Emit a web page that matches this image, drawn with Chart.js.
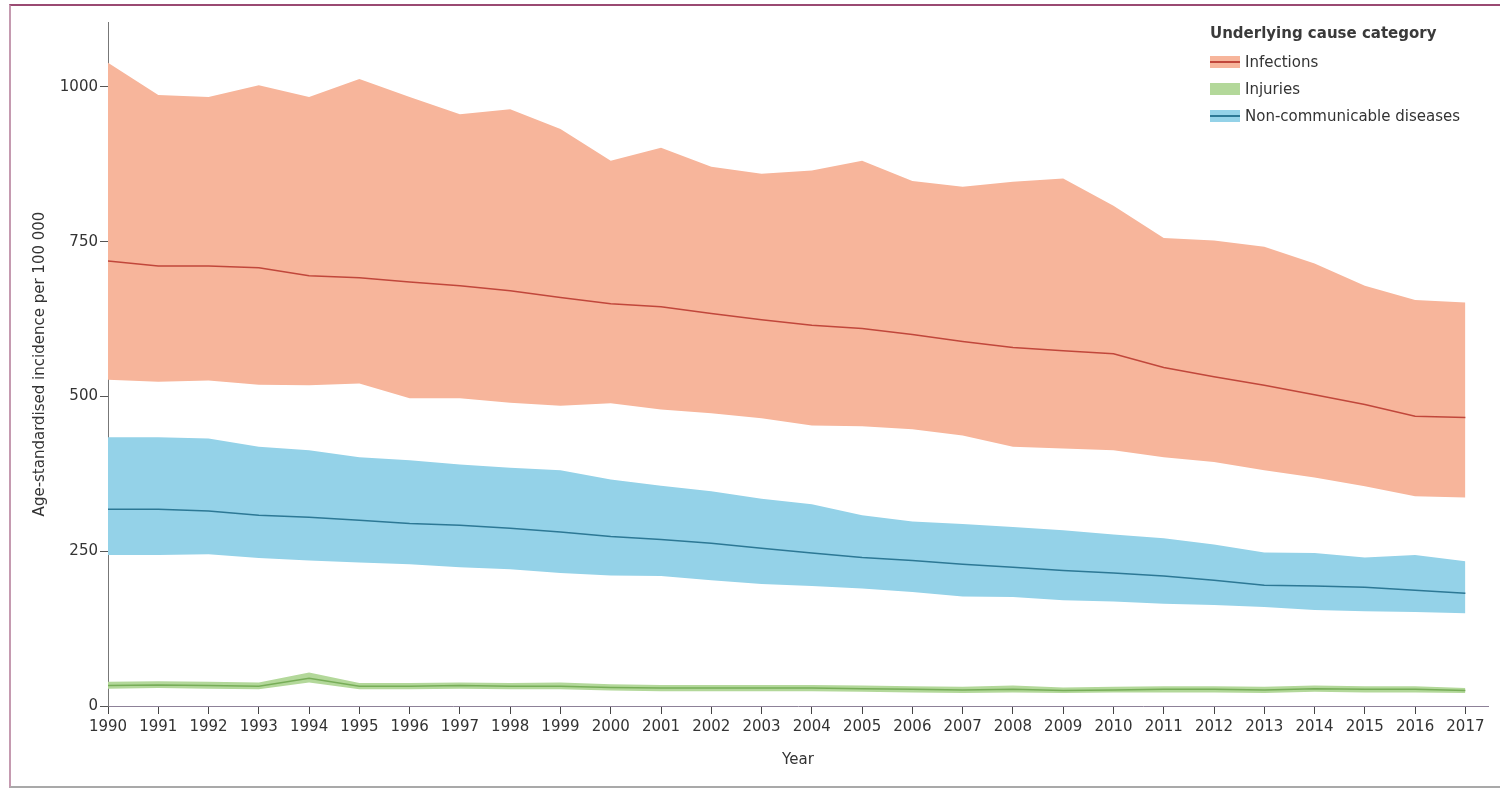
<!DOCTYPE html>
<html lang="en">

<head>
    <meta charset="UTF-8">
    <title>Age-standardised incidence by underlying cause category</title>
    <script src="https://cdn.jsdelivr.net/npm/chart.js"></script>
    <style>
        body {
            margin: 0;
            background: #fff;
            font-family: "DejaVu Sans", sans-serif;
        }

        #wrap {
            position: relative;
            width: 1500px;
            height: 788px;
            overflow: hidden;
        }

        #frame {
            position: absolute;
            left: 9px;
            top: 4px;
            width: 1500px;
            height: 780px;
            border-top: 2px solid #9a4a72;
            border-left: 2px solid #c59ab0;
            border-bottom: 2px solid #a9a9a9;
            pointer-events: none;
        }

        #legend {
            position: absolute;
            left: 1210px;
            top: 24px;
            color: #333;
            font-size: 15px;
        }

        #legend .title {
            font-weight: bold;
            color: #3a3a3a;
            margin-bottom: 6px;
        }

        #legend .item {
            display: flex;
            align-items: center;
            height: 27px;
        }

        #legend .swatch {
            position: relative;
            width: 30px;
            height: 12px;
            margin-right: 5px;
        }

        #legend .swatch span {
            position: absolute;
            left: 0;
            right: 0;
            top: 5px;
            height: 2px;
        }
    </style>
</head>

<body>
    <div id="wrap">
        <canvas id="incidenceChart" width="1500" height="788"></canvas>
        <div id="frame"></div>
        <div id="legend"></div>
    </div>

    <script>
        const years = [1990, 1991, 1992, 1993, 1994, 1995, 1996, 1997, 1998, 1999, 2000, 2001, 2002, 2003,
            2004, 2005, 2006, 2007, 2008, 2009, 2010, 2011, 2012, 2013, 2014, 2015, 2016, 2017];

        const infectionsUpper = [1039, 987, 984, 1003, 984, 1013, 984, 956, 964, 932, 881, 902, 871, 860,
            865, 881, 848, 839, 847, 852, 808, 756, 752, 742, 715, 679, 656, 652];
        const infectionsMean = [719, 711, 711, 708, 695, 692, 685, 679, 671, 660, 650, 645, 634, 624,
            615, 610, 600, 589, 579, 574, 569, 547, 532, 518, 503, 487, 468, 466];
        const infectionsLower = [527, 524, 526, 519, 518, 521, 497, 497, 490, 485, 489, 479, 473, 465,
            453, 452, 447, 437, 419, 416, 413, 402, 394, 381, 369, 355, 339, 337];

        const injuriesUpper = [39, 40, 39, 38, 54, 37, 37, 38, 37, 38, 35, 34, 34, 34,
            34, 33, 32, 31, 33, 30, 31, 32, 32, 31, 33, 32, 32, 29];
        const injuriesMean = [33, 34, 33, 32, 45, 32, 32, 33, 32, 32, 30, 29, 29, 29,
            29, 28, 27, 26, 27, 25, 26, 27, 27, 26, 28, 27, 27, 25];
        const injuriesLower = [28, 29, 28, 27, 38, 27, 27, 28, 27, 27, 25, 24, 24, 24,
            24, 23, 22, 21, 22, 21, 22, 22, 22, 21, 23, 22, 22, 21];

        const ncdUpper = [434, 434, 432, 419, 413, 402, 397, 390, 385, 381, 366, 356, 347, 335,
            326, 308, 298, 294, 289, 284, 277, 271, 261, 248, 247, 240, 244, 234];
        const ncdMean = [318, 318, 315, 308, 305, 300, 295, 292, 287, 281, 274, 269, 263, 255,
            247, 240, 235, 229, 224, 219, 215, 210, 203, 195, 194, 192, 187, 182];
        const ncdLower = [244, 244, 245, 239, 235, 232, 229, 224, 221, 215, 211, 210, 203, 197,
            194, 190, 184, 177, 176, 171, 169, 165, 163, 160, 155, 153, 152, 150];

        const yTicks = [0, 250, 500, 750, 1000];

        const categories = [
            { name: 'Infections', upper: infectionsUpper, mean: infectionsMean, lower: infectionsLower, fill: '#f7b59b', line: '#c1473b', showLine: true },
            { name: 'Injuries', upper: injuriesUpper, mean: injuriesMean, lower: injuriesLower, fill: '#b3d89a', line: '#77ad58', showLine: false },
            { name: 'Non-communicable diseases', upper: ncdUpper, mean: ncdMean, lower: ncdLower, fill: '#94d2e8', line: '#2c7895', showLine: true }
        ];

        // upper bound fills down to the lower bound; means get a lower order so they draw on top
        let datasets = [];
        categories.forEach(function (c) {
            datasets.push({ label: c.name + ' upper', data: c.upper, borderWidth: 0, backgroundColor: c.fill, fill: '+1', pointRadius: 0, order: 2 });
            datasets.push({ label: c.name + ' lower', data: c.lower, borderWidth: 0, backgroundColor: c.fill, fill: false, pointRadius: 0, order: 2 });
            datasets.push({ label: c.name, data: c.mean, borderWidth: 1.5, borderColor: c.line, fill: false, pointRadius: 0, order: 0 });
        });

        const ctx = document.getElementById('incidenceChart').getContext('2d');
        const chart = new Chart(ctx, {
            type: 'line',
            data: { labels: years, datasets: datasets },
            options: {
                responsive: false,
                animation: false,
                layout: { padding: { top: 22, right: 12, left: 0, bottom: 0 } },
                elements: { line: { tension: 0 } },
                scales: {
                    x: {
                        type: 'linear',
                        min: 1990,
                        max: 2017.45,
                        afterBuildTicks: function (scale) {
                            scale.ticks = years.map(function (y) { return { value: y }; });
                        },
                        afterFit: function (scale) { scale.height = 82; },
                        ticks: {
                            color: '#333',
                            font: { family: 'DejaVu Sans', size: 15 },
                            padding: 4,
                            maxRotation: 0,
                            autoSkip: false,
                            callback: function (v) { return String(v); }
                        },
                        grid: { display: true, drawOnChartArea: false, drawTicks: true, tickLength: 8, color: '#444' },
                        border: { display: true, color: '#8d8198' },
                        title: {
                            display: true,
                            text: 'Year',
                            color: '#333',
                            font: { family: 'DejaVu Sans', size: 15 },
                            padding: { top: 0, bottom: 19 }
                        }
                    },
                    y: {
                        min: 0,
                        max: 1105,
                        afterBuildTicks: function (scale) {
                            scale.ticks = yTicks.map(function (v) { return { value: v }; });
                        },
                        afterFit: function (scale) { scale.width = 108; },
                        ticks: {
                            color: '#333',
                            font: { family: 'DejaVu Sans', size: 15 },
                            padding: 2,
                            callback: function (v) { return String(v); }
                        },
                        grid: { display: true, drawOnChartArea: false, drawTicks: true, tickLength: 8, color: '#555' },
                        border: { display: true, color: '#777' },
                        title: {
                            display: true,
                            text: 'Age-standardised incidence per 100 000',
                            color: '#333',
                            font: { family: 'DejaVu Sans', size: 15 },
                            padding: { top: 31, bottom: 0 }
                        }
                    }
                },
                plugins: {
                    legend: { display: false },
                    tooltip: { enabled: false }
                }
            }
        });

        // legend built from the same category list
        const legend = document.getElementById('legend');
        let html = '<div class="title">Underlying cause category</div>';
        categories.forEach(function (c) {
            html += '<div class="item"><div class="swatch" style="background:' + c.fill + '">' +
                (c.showLine ? '<span style="background:' + c.line + '"></span>' : '') +
                '</div>' + c.name + '</div>';
        });
        legend.innerHTML = html;
    </script>
</body>

</html>
